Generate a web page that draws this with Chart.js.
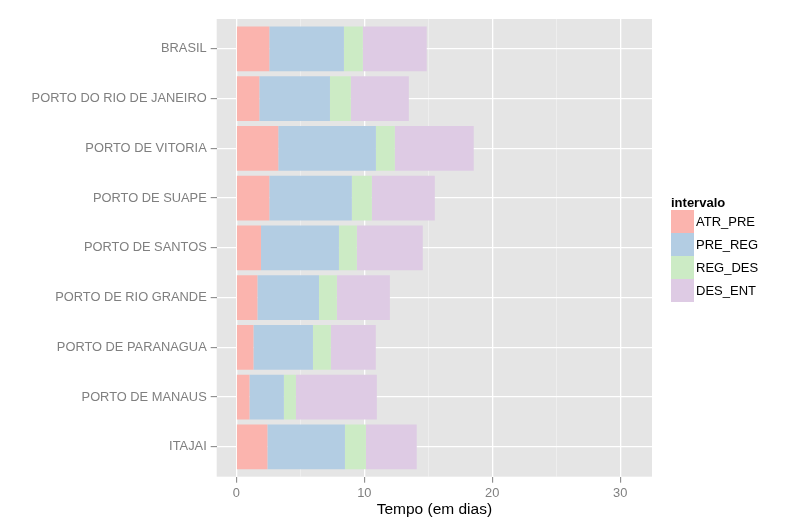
<!DOCTYPE html>
<html>
<head>
<meta charset="utf-8">
<script src="https://cdn.jsdelivr.net/npm/chart.js@4/dist/chart.umd.min.js"></script>
<style>
  html, body { margin: 0; padding: 0; background: #fff; }
  #wrap { width: 798px; height: 530px; }
</style>
</head>
<body>
<div id="wrap"><canvas id="chart" width="798" height="530"></canvas></div>
<script>
// categorias (de cima para baixo) e tempos de cada intervalo, em dias
const categorias = ['BRASIL', 'PORTO DO RIO DE JANEIRO', 'PORTO DE VITORIA', 'PORTO DE SUAPE',
  'PORTO DE SANTOS', 'PORTO DE RIO GRANDE', 'PORTO DE PARANAGUA', 'PORTO DE MANAUS', 'ITAJAI'];
const ATR_PRE = [2.58, 1.80, 3.28, 2.58, 1.93, 1.65, 1.34, 1.03, 2.43];
const PRE_REG = [5.83, 5.52, 7.63, 6.45, 6.09, 4.81, 4.65, 2.69, 6.06];
const REG_DES = [1.48, 1.63, 1.48, 1.56, 1.40, 1.40, 1.40, 0.94, 1.64];
const DES_ENT = [4.99, 4.53, 6.16, 4.92, 5.15, 4.14, 3.51, 6.32, 3.97];
const ticksX = [0, 5, 10, 15, 20, 25, 30];

const cinza = '#7F7F7F';
const fonte = 'Arial, "Liberation Sans", sans-serif';

function serie(nome, valores, cor) {
  return {
    label: nome,
    data: valores.map((v, i) => ({ x: v, y: i })),
    backgroundColor: cor,
    borderWidth: 0,
    categoryPercentage: 0.9,
    barPercentage: 1
  };
}

// fundo cinza do painel
const fundo = {
  id: 'fundo',
  beforeDraw(chart) {
    const a = chart.chartArea, ctx = chart.ctx;
    ctx.save();
    ctx.fillStyle = '#E5E5E5';
    ctx.fillRect(a.left, a.top, a.right - a.left, a.bottom - a.top);
    ctx.restore();
  }
};

// legenda no estilo do ggplot
const legenda = {
  id: 'legenda',
  afterDraw(chart) {
    const ctx = chart.ctx;
    const x = 671, y0 = 210, lado = 23;
    ctx.save();
    ctx.fillStyle = '#000';
    ctx.font = 'bold 13px ' + fonte;
    ctx.textBaseline = 'alphabetic';
    ctx.textAlign = 'left';
    ctx.fillText('intervalo', x, 207);
    ctx.font = '13px ' + fonte;
    ctx.textBaseline = 'middle';
    chart.data.datasets.forEach((ds, i) => {
      const y = y0 + i * lado;
      ctx.fillStyle = ds.backgroundColor;
      ctx.fillRect(x, y, lado, lado);
      ctx.fillStyle = '#000';
      ctx.fillText(ds.label, x + lado + 2, y + lado / 2 + 1);
    });
    ctx.restore();
  }
};

const ctx = document.getElementById('chart').getContext('2d');
new Chart(ctx, {
  type: 'bar',
  data: {
    datasets: [
      serie('ATR_PRE', ATR_PRE, '#FBB4AE'),
      serie('PRE_REG', PRE_REG, '#B3CDE3'),
      serie('REG_DES', REG_DES, '#CCEBC5'),
      serie('DES_ENT', DES_ENT, '#DECBE4')
    ]
  },
  options: {
    indexAxis: 'y',
    responsive: false,
    animation: false,
    layout: { padding: { top: 19, right: 146, bottom: 0, left: 0 } },
    plugins: { legend: { display: false }, tooltip: { enabled: false } },
    scales: {
      x: {
        type: 'linear',
        stacked: true,
        min: -1.53,
        max: 32.48,
        afterBuildTicks: s => { s.ticks = ticksX.map(v => ({ value: v })); },
        afterFit: s => { s.height = 530 - 476.7; },
        border: { display: false },
        grid: {
          color: c => (c.tick && c.tick.value % 10 === 0) ? '#FFFFFF' : '#F2F2F2',
          lineWidth: c => (c.tick && c.tick.value % 10 === 0) ? 1.3 : 0.7,
          tickColor: c => (c.tick && c.tick.value % 10 === 0) ? cinza : 'rgba(0,0,0,0)',
          tickWidth: 1,
          tickLength: 6
        },
        ticks: {
          color: cinza,
          font: { family: fonte, size: 12.85 },
          padding: 3.5,
          autoSkip: false,
          maxRotation: 0,
          callback: v => (v % 10 === 0 ? String(v) : '')
        },
        title: {
          display: true,
          text: 'Tempo (em dias)',
          color: '#000',
          font: { family: fonte, size: 15.5 },
          padding: { top: 0, bottom: 11 }
        }
      },
      y: {
        type: 'linear',
        stacked: true,
        reverse: true,
        offset: false,
        min: -0.6,
        max: 8.6,
        afterBuildTicks: s => { s.ticks = categorias.map((c, i) => ({ value: i })); },
        afterFit: s => { s.width = 216.7; },
        border: { display: false },
        grid: {
          offset: false,
          color: '#FFFFFF',
          lineWidth: 1.3,
          tickColor: cinza,
          tickWidth: 1,
          tickLength: 6
        },
        ticks: {
          color: cinza,
          font: { family: fonte, size: 12.85 },
          padding: 4,
          autoSkip: false,
          callback: v => categorias[v]
        }
      }
    }
  },
  plugins: [fundo, legenda]
});
</script>
</body>
</html>
